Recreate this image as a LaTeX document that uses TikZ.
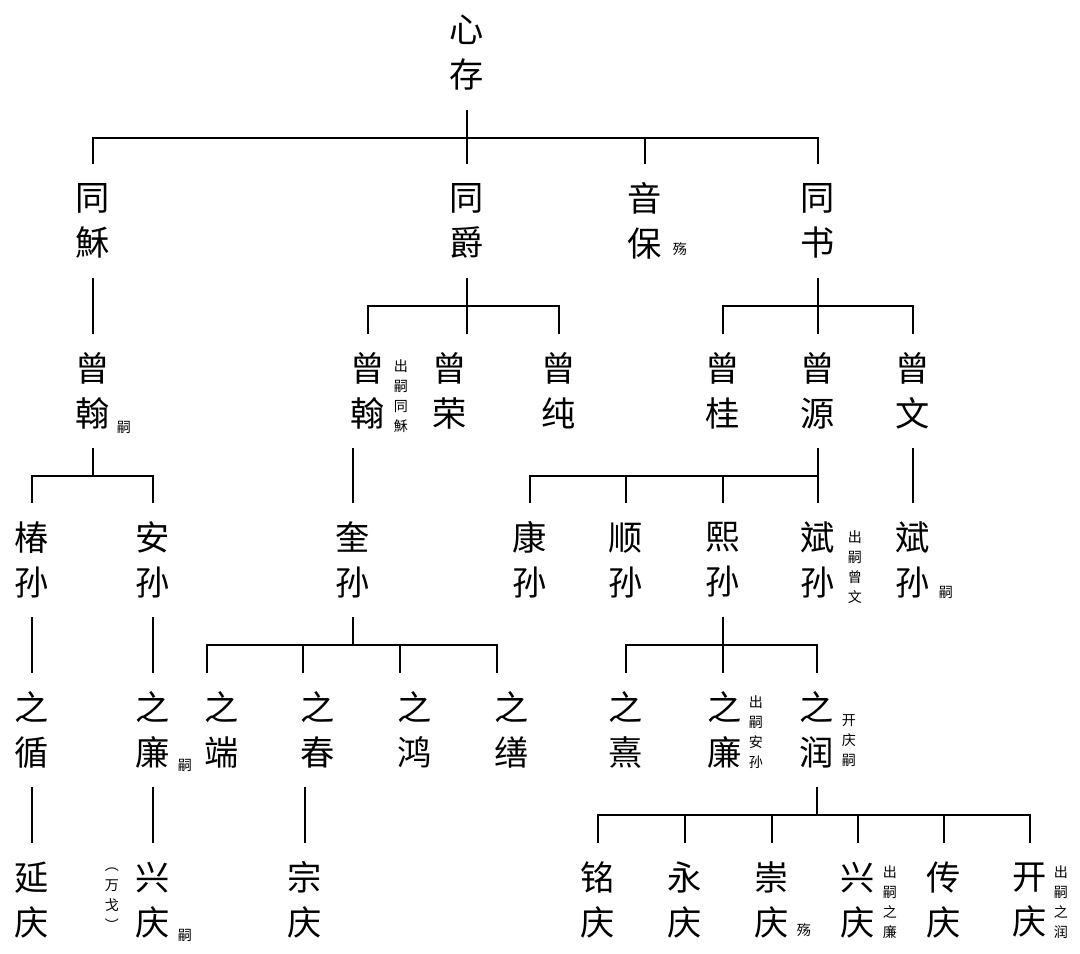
\documentclass[tikz,border=0pt]{standalone}
\usepackage{fontspec}
\newfontfamily\cjk{Noto Sans CJK SC}
\usetikzlibrary{positioning,calc}
\tikzset{
  % stamtavla
  pn/.style={font=\cjk\fontsize{19.5}{25.6}\selectfont,align=center,inner sep=0pt,
             outer sep=0pt,minimum height=2.28cm,text=black},
  nt/.style={font=\cjk\fontsize{8}{11.4}\selectfont,align=center,inner sep=0pt,
             text=black},
  ln/.style={draw=black,line width=1.1pt},
}
\begin{document}
\begin{tikzpicture}[x=0.02cm,y=-0.02cm]
  \useasboundingbox (0,0) rectangle (1080,954);
  % generation 0--1
  \node[pn] (xincun) at (467,53) {心\\存};
  \node[pn] (tongsu) at (93,221) {同\\穌};
  \node[pn] (tongjue) at (467,221) {同\\爵};
  \node[pn] (yinbao) at (645,221) {音\\保};
  \node[pn] (tongshu) at (818,221) {同\\书};
  % generation 2
  \node[pn] (zenghanA) at (93,391) {曾\\翰};
  \node[pn] (zenghanB) at (368,391) {曾\\翰};
  \node[pn] (zengrong) at (450,391) {曾\\荣};
  \node[pn] (zengchun) at (559,391) {曾\\纯};
  \node[pn] (zenggui) at (723,391) {曾\\桂};
  \node[pn] (zengyuan) at (818,391) {曾\\源};
  \node[pn] (zengwen) at (913,391) {曾\\文};
  % generation 3
  \node[pn] (chunsun) at (32,560) {椿\\孙};
  \node[pn] (ansun) at (153,560) {安\\孙};
  \node[pn] (kuisun) at (353,560) {奎\\孙};
  \node[pn] (kangsun) at (530,560) {康\\孙};
  \node[pn] (shunsun) at (626,560) {顺\\孙};
  \node[pn] (xisun) at (723,560) {熙\\孙};
  \node[pn] (binsunA) at (818,560) {斌\\孙};
  \node[pn] (binsunB) at (913,560) {斌\\孙};
  % generation 4
  \node[pn] (zhixun) at (32,730) {之\\循};
  \node[pn] (zhilianA) at (153,730) {之\\廉};
  \node[pn] (zhiduan) at (222,730) {之\\端};
  \node[pn] (zhichun) at (318,730) {之\\春};
  \node[pn] (zhihong) at (415,730) {之\\鸿};
  \node[pn] (zhishan) at (512,730) {之\\缮};
  \node[pn] (zhixi) at (626,730) {之\\熹};
  \node[pn] (zhilianB) at (725,730) {之\\廉};
  \node[pn] (zhirun) at (817,730) {之\\润};
  % generation 5
  \node[pn] (yanqing) at (32,900) {延\\庆};
  \node[pn] (xingqingA) at (153,900) {兴\\庆};
  \node[pn] (zongqing) at (305,900) {宗\\庆};
  \node[pn] (mingqing) at (598,900) {铭\\庆};
  \node[pn] (yongqing) at (685,900) {永\\庆};
  \node[pn] (chongqing) at (772,900) {崇\\庆};
  \node[pn] (xingqingB) at (858,900) {兴\\庆};
  \node[pn] (chuanqing) at (944,900) {传\\庆};
  \node[pn] (kaiqing) at (1030,900) {开\\庆};
  % small notes
  \node[nt] at ($(yinbao)+(35,28)$) {殇};
  \node[nt] at ($(zenghanA)+(31,36)$) {嗣};
  \node[nt] at ($(zenghanB)+(33,5)$) {出\\嗣\\同\\穌};
  \node[nt] at ($(binsunA)+(37,7)$) {出\\嗣\\曾\\文};
  \node[nt] at ($(binsunB)+(33,32)$) {嗣};
  \node[nt] at ($(zhilianA)+(32,35)$) {嗣};
  \node[nt] at ($(xingqingA)+(32,35)$) {嗣};
  \node[nt] at ($(xingqingA)+(-41,-1)$) {︵\\万\\戈\\︶};
  \node[nt] at ($(zhilianB)+(31,2)$) {出\\嗣\\安\\孙};
  \node[nt] at ($(zhirun)+(32,11)$) {开\\庆\\嗣};
  \node[nt] at ($(chongqing)+(32,30)$) {殇};
  \node[nt] at ($(xingqingB)+(32,2)$) {出\\嗣\\之\\廉};
  \node[nt] at ($(kaiqing)+(31,2)$) {出\\嗣\\之\\润};
  % lines
  \draw[ln] (xincun.south) -- ++(0,28) coordinate (b0);
  \draw[ln] (tongsu.north) |- (b0) -| (tongshu.north);
  \draw[ln] (b0) -- (tongjue.north);
  \draw[ln] (yinbao.north) -- (yinbao |- b0);
  \draw[ln] (tongsu) -- (zenghanA);
  \draw[ln] (tongjue.south) -- (tongjue |- zengrong.north);
  \draw[ln] (zenghanB.north) |- ($(tongjue.south)+(0,28)$) -| (zengchun.north);
  \draw[ln] (tongshu) -- (zengyuan);
  \draw[ln] (zenggui.north) |- ($(tongshu.south)+(0,28)$) -| (zengwen.north);
  \draw[ln] (zenghanA.south) -- ++(0,28) coordinate (b1);
  \draw[ln] (chunsun.north) |- (b1) -| (ansun.north);
  \draw[ln] (kuisun.north) -- (kuisun |- zenghanB.south);
  \draw[ln] (zengyuan) -- (binsunA);
  \draw[ln] (kangsun.north) |- ($(zengyuan.south)+(0,28)$) coordinate (b2);
  \draw[ln] (shunsun.north) -- (shunsun |- b2);
  \draw[ln] (xisun.north) -- (xisun |- b2);
  \draw[ln] (zengwen) -- (binsunB);
  \draw[ln] (chunsun) -- (zhixun) -- (yanqing);
  \draw[ln] (ansun) -- (zhilianA) -- (xingqingA);
  \draw[ln] (kuisun.south) -- ++(0,28) coordinate (b3);
  \draw[ln] ([xshift=-0.3cm]zhiduan.north) |- (b3) -| ([xshift=-0.3cm]zhishan.north);
  \draw[ln] ([xshift=-0.3cm]zhichun.north) -- ([xshift=-0.3cm]zhichun.north |- b3);
  \draw[ln] ([xshift=-0.3cm]zhihong.north) -- ([xshift=-0.3cm]zhihong.north |- b3);
  \draw[ln] (zongqing.north) -- (zongqing |- zhichun.south);
  \draw[ln] (xisun.south) -- (xisun |- zhilianB.north);
  \draw[ln] (zhixi.north) |- ($(xisun.south)+(0,28)$) -| (zhirun.north);
  \draw[ln] (zhirun.south) -- ++(0,28) coordinate (b4);
  \draw[ln] (mingqing.north) |- (b4) -| (kaiqing.north);
  \foreach \k in {yongqing,chongqing,xingqingB,chuanqing}
    \draw[ln] (\k.north) -- (\k |- b4);
\end{tikzpicture}
\end{document}
